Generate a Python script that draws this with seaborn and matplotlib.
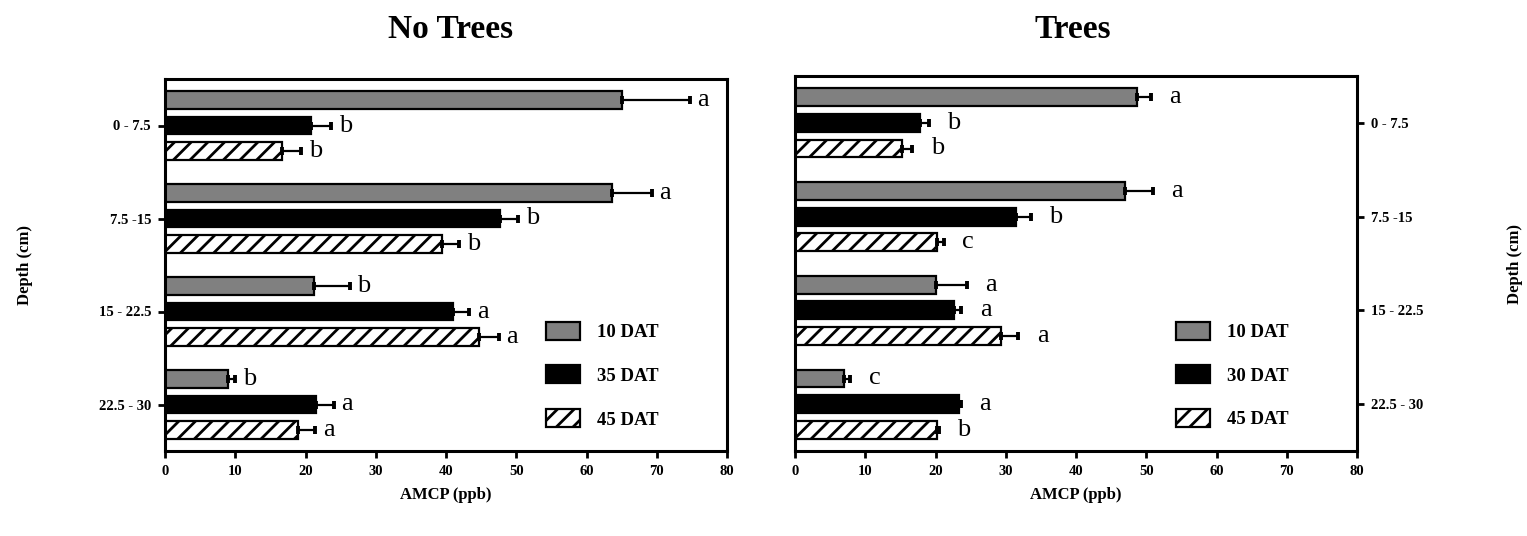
import numpy as np
import pandas as pd
import matplotlib
matplotlib.use("Agg")
import matplotlib.pyplot as plt
import seaborn as sns
from matplotlib.patches import Patch

# ---------------- data ----------------
depths = ["0 - 7.5", "7.5 -15", "15 - 22.5", "22.5 - 30"]

left_levels = ["10 DAT", "35 DAT", "45 DAT"]
left_vals = {
    "10 DAT": [65.0, 63.6, 21.2, 8.9],
    "35 DAT": [20.8, 47.7, 41.0, 21.5],
    "45 DAT": [16.6, 39.4, 44.7, 19.0],
}
left_err = {
    "10 DAT": [9.7, 5.7, 5.1, 1.1],
    "35 DAT": [2.8, 2.6, 2.3, 2.5],
    "45 DAT": [2.8, 2.5, 2.8, 2.4],
}
left_letters = {
    "10 DAT": ["a", "a", "b", "b"],
    "35 DAT": ["b", "b", "a", "a"],
    "45 DAT": ["b", "b", "a", "a"],
}

right_levels = ["10 DAT", "30 DAT", "45 DAT"]
right_vals = {
    "10 DAT": [48.7, 47.0, 20.0, 7.0],
    "30 DAT": [17.8, 31.5, 22.6, 23.4],
    "45 DAT": [15.3, 20.2, 29.3, 20.2],
}
right_err = {
    "10 DAT": [2.0, 4.0, 4.5, 0.9],
    "30 DAT": [1.3, 2.1, 1.1, 0.2],
    "45 DAT": [1.4, 1.0, 2.5, 0.3],
}
right_letters = {
    "10 DAT": ["a", "a", "a", "c"],
    "30 DAT": ["b", "b", "a", "a"],
    "45 DAT": ["b", "c", "a", "b"],
}

x_ticks = [0, 10, 20, 30, 40, 50, 60, 70, 80]

# ---------------- style ----------------
sns.set_style("ticks")
plt.rcParams["font.family"] = ["Liberation Serif", "DejaVu Serif"]
plt.rcParams["font.weight"] = "bold"
plt.rcParams["hatch.linewidth"] = 2.0
plt.rcParams["hatch.color"] = "black"
for k in ["text.color", "axes.labelcolor", "xtick.color", "ytick.color",
          "axes.edgecolor"]:
    plt.rcParams[k] = "black"

colors = ["#808080", "#000000", "#ffffff"]
W, H = 1527, 536
fig = plt.figure(figsize=(W / 100, H / 100), dpi=100)

ax1 = fig.add_axes([165 / W, 85 / H, 562 / W, 372 / H])
ax2 = fig.add_axes([795 / W, 85 / H, 562 / W, 375 / H])


def make_df(levels, vals):
    rows = []
    for lv in levels:
        for d, v in zip(depths, vals[lv]):
            rows.append({"Depth": d, "DAT": lv, "AMCP": v})
    return pd.DataFrame(rows)


def draw_panel(ax, levels, vals, errs, letters, gap_units):
    df = make_df(levels, vals)
    sns.barplot(data=df, y="Depth", x="AMCP", hue="DAT", order=depths,
                hue_order=levels, orient="h", palette=colors, width=0.82,
                gap=0.3, edgecolor="black", linewidth=1.6, errorbar=None,
                legend=False, ax=ax, saturation=1)
    for i, (lv, cont) in enumerate(zip(levels, ax.containers)):
        ys, xs = [], []
        for bar in cont.patches:
            bar.set_edgecolor("black")
            bar.set_linewidth(1.6)
            if i == 2:
                bar.set_hatch("//")
            ys.append(bar.get_y() + bar.get_height() / 2)
            xs.append(bar.get_width())
        e = np.array(errs[lv])
        ax.errorbar(xs, ys, xerr=[np.zeros_like(e), e], fmt="none",
                    ecolor="black", elinewidth=1.6, capsize=2.8,
                    capthick=2.8, zorder=3)
        for x, y, ee, t in zip(xs, ys, e, letters[lv]):
            ax.text(x + ee + gap_units, y, t, ha="left", va="center",
                    fontsize=19, fontweight="normal",
                    family=["Liberation Serif"])
    ax.set_xlim(0, 80)
    ax.set_ylim(3.5, -0.5)
    ax.set_xticks(x_ticks)
    ax.set_xticklabels([str(t) for t in x_ticks], fontsize=10.5,
                       fontweight="bold")
    for s in ax.spines.values():
        s.set_visible(True)
        s.set_linewidth(2.2)
        s.set_color("black")
    ax.tick_params(axis="both", length=5, width=2, color="black",
                   labelsize=10.5, pad=5)
    ax.set_xlabel("AMCP (ppb)", fontsize=12, fontweight="bold")
    handles = [Patch(facecolor=colors[k], edgecolor="black", linewidth=1.6,
                     hatch="//" if k == 2 else None) for k in range(3)]
    ax.legend(handles, levels, loc="lower left", bbox_to_anchor=(0.655, 0.025),
              frameon=False, fontsize=13.5, handlelength=1.8,
              handleheight=1.1, labelspacing=1.3, handletextpad=0.9,
              borderpad=0.2, prop={"weight": "bold", "size": 13.5})


draw_panel(ax1, left_levels, left_vals, left_err, left_letters, 1.1)
draw_panel(ax2, right_levels, right_vals, right_err, right_letters, 2.6)

for lab in ax1.get_yticklabels():
    lab.set_fontweight("bold")
ax1.set_ylabel("Depth (cm)", fontsize=12, fontweight="bold")
ax1.yaxis.set_label_coords((25 - 165) / 562, 0.5)

ax2.yaxis.tick_right()
ax2.yaxis.set_label_position("right")
ax2.tick_params(axis="y", left=False, right=True, labelleft=False,
                labelright=True)
for lab in ax2.get_yticklabels():
    lab.set_fontweight("bold")
ax2.set_ylabel("Depth (cm)", fontsize=12, fontweight="bold", rotation=90)
ax2.yaxis.set_label_coords((1515 - 795) / 562, 0.5)

# x label positions (center of label ~ y=494 px)
ax1.xaxis.set_label_coords(0.5, -(495 - 451) / 372)
ax2.xaxis.set_label_coords(0.5, -(495 - 451) / 375)
ax1.xaxis.label.set_va("center")
ax2.xaxis.label.set_va("center")
ax1.yaxis.label.set_va("center")
ax2.yaxis.label.set_va("center")

fig.text(451 / W, 1 - 29 / H, "No Trees", ha="center", va="center",
         fontsize=24, fontweight="bold")
fig.text(1073 / W, 1 - 29 / H, "Trees", ha="center", va="center",
         fontsize=24, fontweight="bold")

fig.savefig("out.png", dpi=100, facecolor="white")
